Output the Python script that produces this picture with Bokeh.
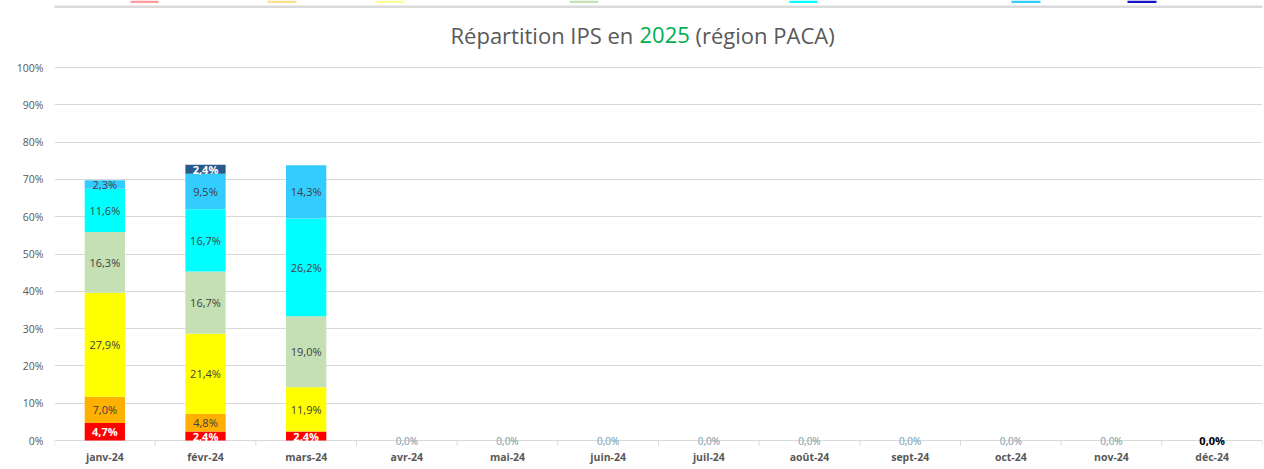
from bokeh.plotting import figure
from bokeh.models import (ColumnDataSource, FixedTicker, Label, LabelSet,
                          BoxAnnotation, NumeralTickFormatter, Range1d)
from bokeh.core.properties import value
from bokeh.embed import file_html
from bokeh.resources import INLINE

# ---------------- data ----------------
months = ["janv-24", "févr-24", "mars-24", "avr-24", "mai-24", "juin-24",
          "juil-24", "août-24", "sept-24", "oct-24", "nov-24", "déc-24"]
series = ["s1", "s2", "s3", "s4", "s5", "s6", "s7"]
s1 = [4.7, 2.4, 2.4, 0, 0, 0, 0, 0, 0, 0, 0, 0]
s2 = [7.0, 4.8, 0.0, 0, 0, 0, 0, 0, 0, 0, 0, 0]
s3 = [27.9, 21.4, 11.9, 0, 0, 0, 0, 0, 0, 0, 0, 0]
s4 = [16.3, 16.7, 19.0, 0, 0, 0, 0, 0, 0, 0, 0, 0]
s5 = [11.6, 16.7, 26.2, 0, 0, 0, 0, 0, 0, 0, 0, 0]
s6 = [2.3, 9.5, 14.3, 0, 0, 0, 0, 0, 0, 0, 0, 0]
s7 = [0.0, 2.4, 0.0, 0, 0, 0, 0, 0, 0, 0, 0, 0]
values = [s1, s2, s3, s4, s5, s6, s7]
y_ticks = [0, 0.1, 0.2, 0.3, 0.4, 0.5, 0.6, 0.7, 0.8, 0.9, 1.0]

# ---------------- styles ----------------
colors = ["#FF0000", "#FFB000", "#FFFF00", "#C5E0B4", "#00FFFF", "#33CCFF", "#2A5A8C"]
swatch_colors = ["#FF9B9B", "#FFE08A", "#FFFF99", "#C5E0B4", "#00FFFF", "#33CCFF", "#1414C8"]
faint_colors = ["#F4A0A0", "#E8C890", "#D8D890", "#A8CC98", "#80D8E0", "#90C8E8", "#9090D0"]
swatch_px = [(130, 158), (267, 296), (375, 404), (569, 598), (789, 817), (1011, 1040), (1127, 1156)]
white_label = [True, False, False, False, False, False, True]
FONT = "Open Sans"
GRAY = "#595959"
GRID = "#D9D9D9"

W, H = 1264, 469
FL, FR = 54, 1262          # frame left/right (px)
Y0, Y100 = 440, 67         # pixel rows of 0% and 100%
FBOT = 449                 # frame bottom (px)
n = len(months)
XS = (FR - FL) / n
YS = (Y0 - Y100)

def dx(px):
    return (px - FL) / XS
def dy(py):
    return (Y0 - py) / YS

xs = [i + 0.5 for i in range(n)]
data = {"x": xs}
for name, vals in zip(series, values):
    data[name] = [v / 100.0 for v in vals]
src = ColumnDataSource(data)

p = figure(width=W, height=H, x_range=Range1d(0, n), y_range=Range1d(dy(FBOT), dy(0)),
           output_backend="svg", toolbar_location=None,
           min_border_left=FL, min_border_right=W - FR,
           min_border_top=0, min_border_bottom=H - FBOT)
p.outline_line_color = None
p.background_fill_color = "white"
p.border_fill_color = "white"

p.vbar_stack(series, x="x", width=0.4, source=src, color=colors, line_color=None)

# grid and axes
p.xgrid.grid_line_color = None
p.ygrid.grid_line_color = GRID
p.ygrid.ticker = FixedTicker(ticks=y_ticks)

yax = p.yaxis[0]
yax.ticker = FixedTicker(ticks=y_ticks)
yax.formatter = NumeralTickFormatter(format="0%")
yax.axis_line_color = None
yax.major_tick_line_color = None
yax.minor_tick_line_color = None
yax.major_tick_out = 0
yax.major_label_standoff = 11
yax.major_label_text_font = FONT
yax.major_label_text_font_size = "10.5px"
yax.major_label_text_color = GRAY

xax = p.xaxis[0]
xax.ticker = FixedTicker(ticks=xs)
xax.major_label_overrides = {x: m for x, m in zip(xs, months)}
xax.axis_line_color = None
xax.major_tick_line_color = None
xax.minor_tick_line_color = None
xax.major_tick_out = 0
xax.major_label_standoff = 0
xax.major_label_text_font = FONT
xax.major_label_text_font_size = "10.5px"
xax.major_label_text_font_style = "bold"
xax.major_label_text_color = GRAY

# category boundary tick marks below the 0% line
bounds = list(range(n + 1))
p.segment(x0=bounds, x1=bounds, y0=[0] * len(bounds), y1=[dy(Y0 + 5)] * len(bounds),
          line_color=GRID, line_width=1)

# value labels
def fmt(v):
    return f"{v:.1f}".replace(".", ",") + "%"

groups = {"white": dict(x=[], y=[], t=[]), "dark": dict(x=[], y=[], t=[])}
faint = dict(x=[], y=[], t=[], c=[])
for i in range(n):
    base = 0.0
    total = sum(vals[i] for vals in values)
    for k, vals in enumerate(values):
        v = vals[i]
        if total > 0:
            if v > 0:
                g = groups["white" if white_label[k] else "dark"]
                g["x"].append(xs[i]); g["y"].append((base + v / 2) / 100.0); g["t"].append(fmt(v))
        elif i < n - 1:
            faint["x"].append(xs[i]); faint["y"].append(0.0); faint["t"].append(fmt(v))
            faint["c"].append(faint_colors[k])
        base += v

p.add_layout(LabelSet(x="x", y="y", text="t", source=ColumnDataSource(faint),
                      text_color="c", text_alpha=0.45,
                      text_align="center", text_baseline="middle",
                      text_font=value(FONT), text_font_size=value("10px")))

for key, col, style in [("dark", "#404040", "normal"), ("white", "#FFFFFF", "bold")]:
    g = groups[key]
    p.add_layout(LabelSet(x="x", y="y", text="t", source=ColumnDataSource(g),
                          text_align="center", text_baseline="middle",
                          text_font=value(FONT), text_font_size=value("11px"),
                          text_color=value(col), text_font_style=value(style)))

dec_total = sum(vals[n - 1] for vals in values)
p.add_layout(Label(x=xs[n - 1], y=dec_total / 100.0, text=fmt(dec_total),
                   text_align="center", text_baseline="middle",
                   text_font=FONT, text_font_size="11px", text_font_style="bold",
                   text_color="#000000"))

# title (two colours)
ty = dy(34)
p.add_layout(Label(x=dx(450), y=ty, text="Répartition IPS en", text_align="left",
                   text_baseline="middle", text_font=FONT, text_font_size="22px", text_color=GRAY))
p.add_layout(Label(x=dx(639), y=ty, text="2025", text_align="left",
                   text_baseline="middle", text_font=FONT, text_font_size="22px", text_color="#00B050"))
p.add_layout(Label(x=dx(695), y=ty, text="(région PACA)", text_align="left",
                   text_baseline="middle", text_font=FONT, text_font_size="22px", text_color=GRAY))

# panel border line and clipped legend swatches at the top
p.add_layout(BoxAnnotation(left=dx(0), right=dx(W), top=dy(5), bottom=dy(7.5),
                           fill_color="#DADADA", fill_alpha=1, line_color=None))
for (a, b), c in zip(swatch_px, swatch_colors):
    p.add_layout(BoxAnnotation(left=dx(a), right=dx(b), top=dy(0), bottom=dy(2.5),
                               fill_color=c, fill_alpha=1, line_color=None))

open("out.html", "w").write(file_html(p, INLINE))
